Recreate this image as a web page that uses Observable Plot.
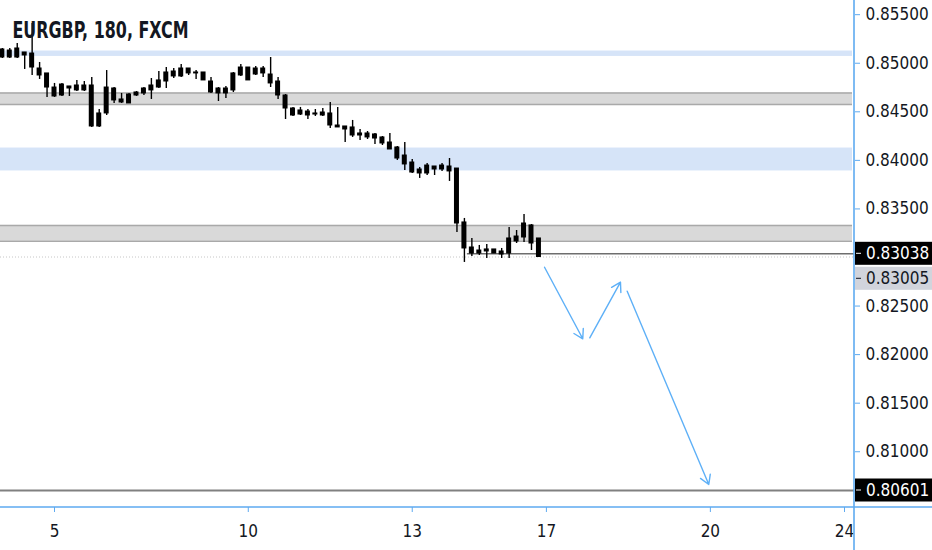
<!DOCTYPE html>
<html><head><meta charset="utf-8">
<script src="https://cdn.jsdelivr.net/npm/d3@7"></script>
<script src="https://cdn.jsdelivr.net/npm/@observablehq/plot@0.6"></script>
<style>
html,body{margin:0;padding:0;background:#fff;}
#chart{position:relative;width:932px;height:550px;overflow:hidden;}
</style></head><body><div id="chart"></div>
<script>
const title = "EURGBP, 180, FXCM";

// 180-minute candles (bar index 0..72)
const opens = [0.85059,0.85131,0.85059,0.85111,0.85100,0.84946,0.84895,0.84750,0.84668,0.84761,
 0.84720,0.84771,0.84771,0.84349,0.84483,0.84740,0.84627,0.84586,0.84668,0.84689,
 0.84720,0.84750,0.84812,0.84915,0.84864,0.84946,0.84905,0.84905,0.84812,0.84740,
 0.84689,0.84720,0.84874,0.84956,0.84884,0.84946,0.84884,0.84812,0.84668,0.84534,
 0.84472,0.84503,0.84483,0.84462,0.84483,0.84359,0.84349,0.84339,0.84277,0.84277,
 0.84267,0.84236,0.84184,0.84133,0.84050,0.83978,0.83865,0.83865,0.83937,0.83906,
 0.83937,0.83916,0.83361,0.83103,0.83041,0.83083,0.83083,0.83062,0.83041,0.83165,
 0.83206,0.83330,0.83196];
const highs = [0.85152,0.85152,0.85203,0.85111,0.85409,0.85008,0.84895,0.84792,0.84792,0.84761,
 0.84823,0.84812,0.84853,0.84524,0.84925,0.84750,0.84689,0.84689,0.84709,0.84750,
 0.84843,0.84915,0.84956,0.84946,0.84987,0.84946,0.84925,0.84905,0.84853,0.84750,
 0.84761,0.84905,0.84987,0.84956,0.84967,0.84967,0.85059,0.84853,0.84678,0.84545,
 0.84545,0.84524,0.84524,0.84534,0.84596,0.84545,0.84349,0.84411,0.84318,0.84297,
 0.84277,0.84246,0.84277,0.84143,0.84184,0.84009,0.83927,0.83968,0.83937,0.83968,
 0.84019,0.83916,0.83402,0.83196,0.83124,0.83134,0.83083,0.83093,0.83309,0.83278,
 0.83443,0.83340,0.83196];
const lows = [0.85049,0.85049,0.85049,0.84936,0.84874,0.84833,0.84648,0.84648,0.84658,0.84658,
 0.84709,0.84709,0.84339,0.84339,0.84462,0.84586,0.84586,0.84586,0.84658,0.84668,
 0.84627,0.84740,0.84740,0.84843,0.84853,0.84874,0.84833,0.84823,0.84689,0.84606,
 0.84637,0.84699,0.84864,0.84823,0.84874,0.84853,0.84750,0.84627,0.84421,0.84452,
 0.84462,0.84421,0.84452,0.84452,0.84328,0.84339,0.84184,0.84236,0.84205,0.84215,
 0.84164,0.84153,0.84112,0.83999,0.83896,0.83865,0.83814,0.83844,0.83844,0.83886,
 0.83783,0.83258,0.82949,0.83010,0.83021,0.82990,0.83041,0.82990,0.82990,0.83144,
 0.83155,0.83072,0.83000];
const closes = [0.85142,0.85059,0.85152,0.85080,0.84956,0.84874,0.84750,0.84658,0.84781,0.84740,
 0.84771,0.84720,0.84349,0.84483,0.84750,0.84617,0.84596,0.84678,0.84699,0.84740,
 0.84771,0.84823,0.84905,0.84864,0.84946,0.84895,0.84895,0.84823,0.84699,0.84689,
 0.84740,0.84895,0.84956,0.84823,0.84946,0.84895,0.84792,0.84668,0.84534,0.84462,
 0.84514,0.84462,0.84472,0.84493,0.84359,0.84339,0.84318,0.84256,0.84256,0.84236,
 0.84225,0.84174,0.84112,0.84019,0.83958,0.83875,0.83906,0.83947,0.83906,0.83947,
 0.83886,0.83350,0.83093,0.83041,0.83072,0.83062,0.83041,0.83031,0.83196,0.83216,
 0.83350,0.83144,0.83005];

// time axis (bar index of each day label)
const dayTickBars = [7, 33, 55, 73, 95, 113];
const dayTickLabels = ["5", "10", "13", "17", "20", "24"];
const priceTicks = [0.855, 0.85, 0.845, 0.84, 0.835, 0.825, 0.82, 0.815, 0.81];

// support / resistance zones
const zoneLow  = [0.85070, 0.84575, 0.83891, 0.83168];
const zoneHigh = [0.85126, 0.84694, 0.84127, 0.83330];
const zoneKind = ["blue", "gray", "blue", "gray"];

// horizontal levels
const targetPrice = 0.80601;
const rayPrice = 0.83038;
const rayStartBar = 62.4;
const lastPrice = 0.83005;

// projected path arrows
const arrowFromBar   = [72.75, 78.82, 83.84];
const arrowFromPrice = [0.82900, 0.82173, 0.82653];
const arrowToBar     = [77.88, 82.94, 94.79];
const arrowToPrice   = [0.82163, 0.82746, 0.80663];

const xDomain = [-0.2455, 114.34];
const yDomain = [0.80426, 0.85646];

const FONT = "'Liberation Sans Narrow', 'DejaVu Sans Condensed', 'Liberation Sans', sans-serif";
const AXIS = "#5eaaf0";
const TXT = "#131722";

const bars = opens.map((o, i) => ({i, open: o, high: highs[i], low: lows[i], close: closes[i]}));
const zones = zoneLow.map((lo, k) => ({lo, hi: zoneHigh[k], kind: zoneKind[k], a: xDomain[0], b: xDomain[1]}));
const blueZones = zones.filter(z => z.kind === "blue");
const grayZones = zones.filter(z => z.kind === "gray");
const arrows = arrowFromBar.map((b, k) => ({x1: b, y1: arrowFromPrice[k], x2: arrowToBar[k], y2: arrowToPrice[k]}));
const labelOf = new Map(dayTickBars.map((b, k) => [b, dayTickLabels[k]]));

const W = 932, H = 550, mR = 78, mB = 43;

const chart = Plot.plot({
  width: W, height: H,
  marginLeft: 0, marginRight: mR, marginTop: 0, marginBottom: mB,
  style: {fontFamily: FONT, fontSize: "17px", background: "#fff", overflow: "visible", fontStretch: "condensed"},
  x: {type: "linear", domain: xDomain},
  y: {type: "linear", domain: yDomain},
  marks: [
    Plot.rect(blueZones, {x1: "a", x2: "b", y1: "lo", y2: "hi", fill: "#d6e4f8", insetRight: 2}),
    Plot.rect(grayZones, {x1: "a", x2: "b", y1: "lo", y2: "hi", fill: "#d9d9d9", insetRight: 2}),
    Plot.ruleY(grayZones, {y: "lo", x1: "a", x2: "b", stroke: "#a9a9a9", strokeWidth: 1.6, insetRight: 2}),
    Plot.ruleY(grayZones, {y: "hi", x1: "a", x2: "b", stroke: "#a9a9a9", strokeWidth: 1.6, insetRight: 2}),
    Plot.ruleY([{p: lastPrice, a: xDomain[0], b: xDomain[1]}], {y: "p", x1: "a", x2: "b", stroke: "#c6c6c6", strokeWidth: 1, strokeDasharray: "1,2"}),
    Plot.ruleY([{p: targetPrice, a: xDomain[0], b: xDomain[1]}], {y: "p", x1: "a", x2: "b", stroke: "#808080", strokeWidth: 2}),
    Plot.ruleY([{p: rayPrice, a: rayStartBar, b: xDomain[1]}], {y: "p", x1: "a", x2: "b", stroke: "#6e6e6e", strokeWidth: 1.6}),
    Plot.ruleX(bars, {x: "i", y1: "low", y2: "high", stroke: "#000", strokeWidth: 1.4}),
    Plot.rect(bars, {x1: d => d.i - 0.335, x2: d => d.i + 0.335, y1: "open", y2: "close", fill: "#000", insetTop: -0.5, insetBottom: -0.5}),
    Plot.arrow(arrows, {x1: "x1", y1: "y1", x2: "x2", y2: "y2", stroke: "#5eb0f7", strokeWidth: 1.4, headLength: 11, headAngle: 62}),
    Plot.axisY(priceTicks, {anchor: "right", tickFormat: d3.format(".5f"), tickSize: 5, tickPadding: 6, stroke: AXIS, fill: TXT, label: null, fontSize: 17}),
    Plot.axisX(dayTickBars, {anchor: "bottom", tickFormat: d => labelOf.get(d), tickSize: 5, tickPadding: 12, stroke: AXIS, fill: TXT, label: null, fontSize: 17}),
    Plot.text([title], {frameAnchor: "top-left", dx: 12, dy: 30, textAnchor: "start", lineAnchor: "middle", fontSize: 23, fontWeight: 600, fill: TXT, className: "chart-title"})
  ]
});

document.getElementById("chart").appendChild(chart);

const svg = d3.select(chart);
// fit the title to the reference width
svg.selectAll(".chart-title text").attr("textLength", 176).attr("lengthAdjust", "spacingAndGlyphs");

// price scale labels drawn with the plot's own scales
const ys = chart.scale("y");
const xs = chart.scale("x");
const xr = xs.apply(xDomain[1]);
const yb = ys.apply(yDomain[0]);

svg.append("line").attr("x1", 0).attr("x2", W).attr("y1", yb).attr("y2", yb).attr("stroke", AXIS).attr("stroke-width", 1.6);
svg.append("line").attr("x1", xr).attr("x2", xr).attr("y1", 0).attr("y2", H).attr("stroke", AXIS).attr("stroke-width", 1.6);

const priceLabels = [
  {v: rayPrice, bg: "#000", fg: "#fff"},
  {v: lastPrice, bg: "#d1d4dc", fg: TXT},
  {v: targetPrice, bg: "#000", fg: "#fff"}
];
const boxH = 23;
let prev = -Infinity;
priceLabels.map(d => ({...d, y: ys.apply(d.v)})).sort((a, b) => a.y - b.y).forEach(d => {
  const cy = Math.max(d.y, prev + boxH + 2);
  prev = cy;
  const g = svg.append("g");
  g.append("rect").attr("x", xr + 1).attr("y", cy - boxH / 2).attr("width", W - xr - 1).attr("height", boxH).attr("fill", d.bg);
  g.append("line").attr("x1", xr + 2).attr("x2", xr + 7).attr("y1", cy).attr("y2", cy).attr("stroke", d.fg).attr("stroke-width", 1);
  g.append("text").attr("x", xr + 12).attr("y", cy).attr("dy", "0.35em").attr("fill", d.fg)
    .attr("text-anchor", "start").attr("font-family", FONT).attr("font-size", 17)
    .style("font-stretch", "condensed").text(d3.format(".5f")(d.v));
});
</script></body></html>
